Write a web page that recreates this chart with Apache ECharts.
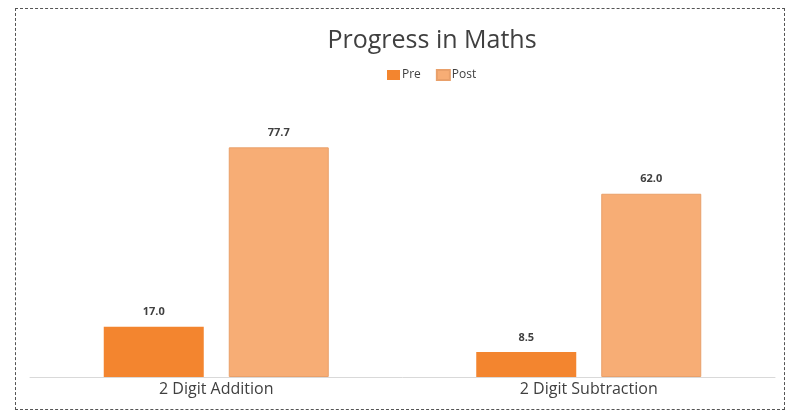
<!DOCTYPE html>
<html>
<head>
<meta charset="utf-8">
<script src="https://cdn.jsdelivr.net/npm/echarts@6/dist/echarts.min.js"></script>
<style>
  html, body { margin: 0; padding: 0; background: #fff; }
  #chart { position: absolute; left: 0; top: 0; width: 788px; height: 415px; }
  #frame { position: absolute; left: 15px; top: 8px; width: 768px; height: 400px;
           border: 1px dashed #555; pointer-events: none; }
</style>
</head>
<body>
<div id="chart"></div>
<div id="frame"></div>
<script>
const categories = ['2 Digit Addition', '2 Digit Subtraction'];
const preValues = [17.0, 8.5];
const postValues = [77.7, 62.0];

const chart = echarts.init(document.getElementById('chart'));

const labelStyle = {
    show: true,
    position: 'top',
    distance: 9,
    fontFamily: 'Open Sans',
    fontWeight: 'bold',
    fontSize: 11,
    color: '#404040',
    formatter: (p) => p.value.toFixed(1)
};

chart.setOption({
    animation: false,
    title: {
        text: 'Progress in Maths',
        left: 427,
        textAlign: 'center',
        top: 23,
        textStyle: { fontFamily: 'Open Sans', fontWeight: 'normal', fontSize: 25, color: '#404040' }
    },
    legend: {
        top: 64,
        left: 382,
        itemWidth: 13,
        itemHeight: 10,
        itemGap: 15,
        icon: 'rect',
        textStyle: { fontFamily: 'Open Sans', fontSize: 12, color: '#404040', padding: [0, 0, 0, -3] },
        data: ['Pre', 'Post']
    },
    grid: { left: 30, right: 13, top: 111, bottom: 38 },
    xAxis: {
        type: 'category',
        data: categories,
        axisLine: { lineStyle: { color: '#d9d9d9', width: 1 } },
        axisTick: { show: false },
        axisLabel: { fontFamily: 'Open Sans', fontSize: 16, color: '#404040', margin: 4 }
    },
    yAxis: {
        type: 'value',
        min: 0,
        max: 90,
        show: false,
        splitLine: { show: false }
    },
    series: [
        {
            name: 'Pre',
            type: 'bar',
            data: preValues,
            barWidth: 100,
            barGap: '25%',
            itemStyle: { color: '#F3852F' },
            label: labelStyle
        },
        {
            name: 'Post',
            type: 'bar',
            data: postValues,
            barWidth: 100,
            itemStyle: { color: '#F7AD75', borderColor: '#E9A06A', borderWidth: 1 },
            label: labelStyle
        }
    ]
});
</script>
</body>
</html>
